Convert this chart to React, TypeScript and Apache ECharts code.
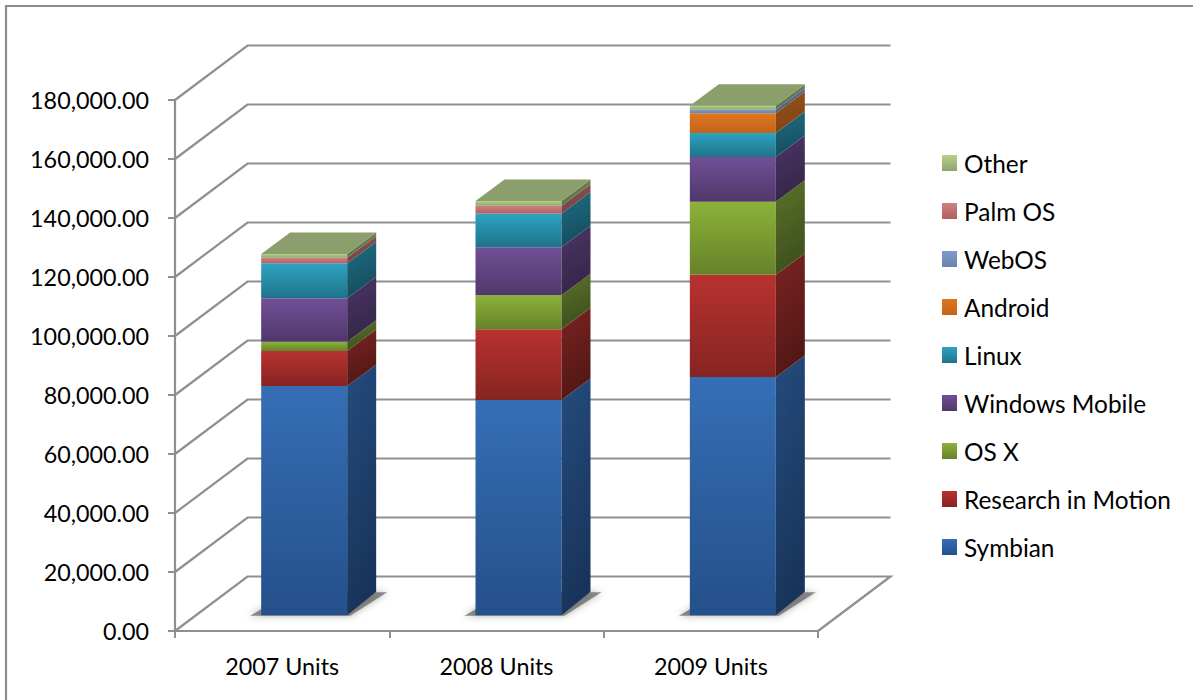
import React, { useEffect, useRef } from "react";
import * as echarts from "echarts";

const categories = ["2007 Units", "2008 Units", "2009 Units"];
const symbian = [77700, 73000, 80800];
const rim = [11900, 24000, 34600];
const osx = [3150, 11500, 24800];
const windowsMobile = [14700, 16300, 15150];
const linux = [11850, 11400, 8150];
const android = [0, 0, 6650];
const webos = [0, 0, 1250];
const palm = [1900, 2600, 0];
const other = [1250, 1600, 1350];
const yTicks = [0, 20000, 40000, 60000, 80000, 100000, 120000, 140000, 160000, 180000];

const stackNames = ["Symbian", "Research in Motion", "OS X", "Windows Mobile", "Linux", "Android", "WebOS", "Palm OS", "Other"];
const stackValues = [symbian, rim, osx, windowsMobile, linux, android, webos, palm, other];
// front top, front bottom, side top, side bottom
const palette = [
  ["#366eb6", "#24508a", "#244c7e", "#19345a"],
  ["#b8322f", "#862422", "#7a2422", "#531715"],
  ["#8cb23a", "#668229", "#5a7329", "#3f501d"],
  ["#714f97", "#4f3869", "#4c3666", "#352648"],
  ["#2ea3c2", "#1e7389", "#1f6e84", "#154d5d"],
  ["#e0761f", "#c2641b", "#91501a", "#864414"],
  ["#7f9bcb", "#6a82ad", "#586d92", "#4f6285"],
  ["#d08080", "#b06060", "#8a5050", "#784444"],
  ["#b6d18d", "#8ea56c", "#6f8053", "#617249"],
];

const GRID = { left: 175, top: 100, width: 643, height: 531 };
const WALL_DX = 72.5;
const WALL_DY = -54.5;
const BAR_SHIFT_X = 22;
const BAR_SHIFT_Y = -15.7;
const BAR_WIDTH = 86;
const BAR_DX = 29;
const BAR_DY = -21.5;
const BAR_DY_BASE = -23.5;
const GRID_COLOR = "#8f8f8f";

const grad = (a: string, b: string, x2 = 0) =>
  new echarts.graphic.LinearGradient(0, 0, x2, 1, [
    { offset: 0, color: a },
    { offset: 1, color: b },
  ]);

const wallSeries = {
  type: "custom",
  name: "walls",
  silent: true,
  z: 1,
  data: yTicks.map((v) => [0, v]),
  encode: { x: 0, y: 1 },
  renderItem: (params: any, api: any) => {
    const cs = params.coordSys;
    const y = api.coord([0, api.value(1)])[1];
    const left = cs.x;
    const right = cs.x + cs.width;
    const pts = [
      [left, y],
      [left + WALL_DX, y + WALL_DY],
      [right + WALL_DX, y + WALL_DY],
    ];
    if (api.value(1) === 0) pts.push([right, y]);
    return {
      type: "polyline",
      shape: { points: pts },
      style: { fill: "none", stroke: GRID_COLOR, lineWidth: 2.2 },
    };
  },
};

const shadowSeries = {
  type: "custom",
  name: "shadows",
  silent: true,
  z: 2,
  data: categories.map((_, i) => [i, 0]),
  encode: { x: 0, y: 1 },
  renderItem: (_p: any, api: any) => {
    const [cx, y0] = api.coord([api.value(0), 0]);
    const x = cx + BAR_SHIFT_X;
    const y = y0 + BAR_SHIFT_Y;
    const h = BAR_WIDTH / 2;
    return {
      type: "polygon",
      shape: {
        points: [
          [x - h - 11, y + 0.5],
          [x + h + 3, y + 0.5],
          [x + h + BAR_DX + 11, y + BAR_DY_BASE + 0.5],
          [x - h + BAR_DX, y + BAR_DY_BASE + 0.5],
        ],
      },
      style: { fill: "rgba(95,95,95,0.7)", shadowBlur: 7, shadowColor: "rgba(60,60,60,0.6)" },
    };
  },
};

const stackSeries = stackNames.map((name, s) => {
  const [ft, fb, st, sb] = palette[s];
  const data = categories.map((_, c) => {
    let base = 0;
    for (let k = 0; k < s; k++) base += stackValues[k][c];
    return [c, base, base + stackValues[s][c]];
  });
  return {
    type: "custom",
    name,
    z: 3 + s,
    itemStyle: { color: ft },
    data,
    encode: { x: 0, y: [1, 2] },
    renderItem: (_p: any, api: any) => {
      const c = api.value(0);
      const lo = api.value(1);
      const hi = api.value(2);
      if (hi <= lo) return null;
      const cx = api.coord([c, lo])[0] + BAR_SHIFT_X;
      const yb = api.coord([c, lo])[1] + BAR_SHIFT_Y;
      const yt = api.coord([c, hi])[1] + BAR_SHIFT_Y;
      const xl = cx - BAR_WIDTH / 2;
      const xr = cx + BAR_WIDTH / 2;
      const dyBottom = lo === 0 ? BAR_DY_BASE : BAR_DY;
      const children: any[] = [
        {
          type: "polygon",
          shape: { points: [[xl, yt], [xr, yt], [xr, yb], [xl, yb]] },
          style: { fill: grad(ft, fb) },
        },
        {
          type: "polygon",
          shape: {
            points: [
              [xr, yt],
              [xr + BAR_DX, yt + BAR_DY],
              [xr + BAR_DX, yb + dyBottom],
              [xr, yb],
            ],
          },
          style: { fill: grad(st, sb, 0.25) },
        },
      ];
      if (s === stackNames.length - 1) {
        children.push({
          type: "polygon",
          shape: {
            points: [
              [xl, yt],
              [xr, yt],
              [xr + BAR_DX, yt + BAR_DY],
              [xl + BAR_DX, yt + BAR_DY],
            ],
          },
          style: { fill: "#8a9f6c" },
        });
      }
      return { type: "group", children };
    },
  };
});

const legendData = stackNames
  .map((name, s) => ({
    name,
    icon: "rect",
    itemStyle: { color: grad(palette[s][0], palette[s][1]) },
  }))
  .reverse();

export default function App() {
  const ref = useRef<HTMLDivElement>(null);
  useEffect(() => {
    const chart = echarts.init(ref.current!, undefined, { renderer: "svg" });
    chart.setOption({
      animation: false,
      backgroundColor: "#ffffff",
      textStyle: { fontFamily: "Lato" },
      grid: { ...GRID },
      xAxis: {
        type: "category",
        data: categories,
        axisLine: { lineStyle: { color: GRID_COLOR, width: 2.2 } },
        axisTick: { show: true, length: 7, lineStyle: { color: GRID_COLOR, width: 2 } },
        axisLabel: { color: "#000", fontSize: 23.3, fontFamily: "Lato", margin: 23 },
      },
      yAxis: {
        type: "value",
        min: 0,
        max: 180000,
        interval: 20000,
        splitLine: { show: false },
        axisLine: { show: true, lineStyle: { color: GRID_COLOR, width: 2.2 } },
        axisTick: { show: true, length: 7, lineStyle: { color: GRID_COLOR, width: 2 } },
        axisLabel: {
          color: "#000",
          fontSize: 23.3,
          fontFamily: "Lato",
          margin: 26,
          formatter: (v: number) =>
            v.toLocaleString("en-US", { minimumFractionDigits: 2, maximumFractionDigits: 2 }),
        },
      },
      legend: {
        orient: "vertical",
        left: 942,
        top: 151,
        padding: 0,
        itemWidth: 15,
        itemHeight: 16,
        itemGap: 24,
        selectedMode: false,
        data: legendData,
        textStyle: { color: "#000", fontSize: 24.4, fontFamily: "Lato", padding: [0, 0, 0, 2] },
      },
      graphic: [
        {
          type: "rect",
          shape: { x: 6, y: 6, width: 1300, height: 800 },
          style: { fill: "none", stroke: "#8c8c8c", lineWidth: 2.2 },
          silent: true,
        },
      ],
      series: [wallSeries, shadowSeries, ...stackSeries],
    });
    return () => chart.dispose();
  }, []);
  return <div ref={ref} style={{ position: "fixed", left: 0, top: 0, width: 1193, height: 700 }} />;
}
